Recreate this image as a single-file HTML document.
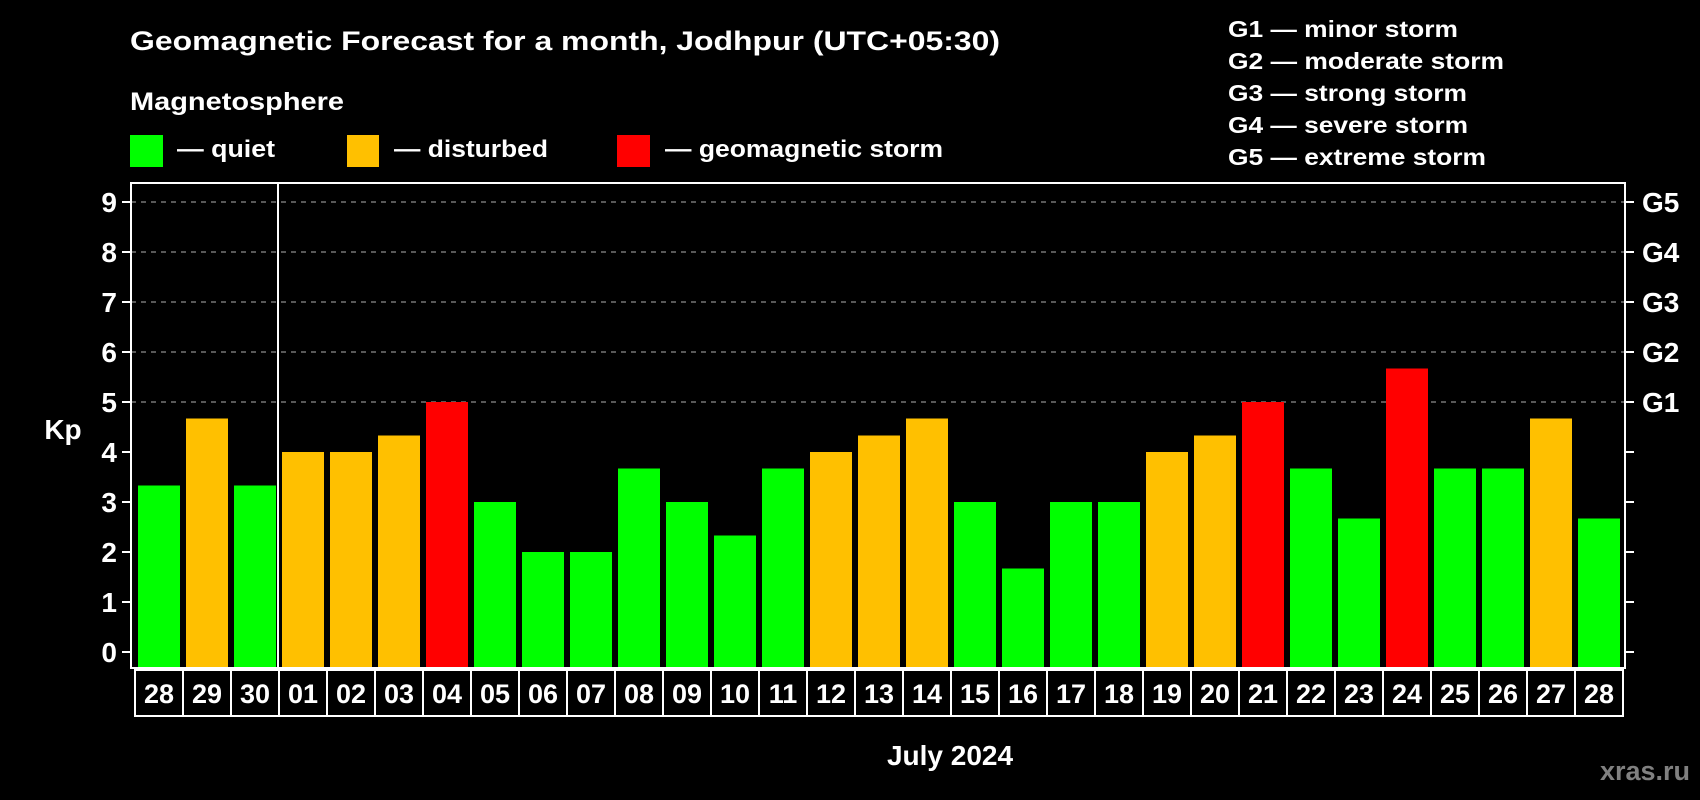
<!DOCTYPE html>
<html><head><meta charset="utf-8"><style>
html,body{margin:0;padding:0;background:#000;width:1700px;height:800px;overflow:hidden}
svg text{font-family:"Liberation Sans",Arial,sans-serif;font-weight:bold;fill:#fff}
</style></head><body>
<svg id="chart" width="1700" height="800" xmlns="http://www.w3.org/2000/svg">
<rect width="1700" height="800" fill="#000"/>
<text x="130" y="50" font-size="27" textLength="870" lengthAdjust="spacingAndGlyphs">Geomagnetic Forecast for a month, Jodhpur (UTC+05:30)</text>
<text x="130" y="110" font-size="25" textLength="214" lengthAdjust="spacingAndGlyphs">Magnetosphere</text>
<rect x="130" y="135" width="33" height="32" fill="#00ff00"/>
<text x="177" y="157" font-size="24" textLength="98" lengthAdjust="spacingAndGlyphs">— quiet</text>
<rect x="347" y="135" width="32" height="32" fill="#ffc000"/>
<text x="394" y="157" font-size="24" textLength="154" lengthAdjust="spacingAndGlyphs">— disturbed</text>
<rect x="617" y="135" width="33" height="32" fill="#ff0000"/>
<text x="665" y="157" font-size="24" textLength="278" lengthAdjust="spacingAndGlyphs">— geomagnetic storm</text>
<g font-size="23">
<text x="1228" y="37" textLength="230" lengthAdjust="spacingAndGlyphs">G1 — minor storm</text>
<text x="1228" y="69" textLength="276" lengthAdjust="spacingAndGlyphs">G2 — moderate storm</text>
<text x="1228" y="101" textLength="239" lengthAdjust="spacingAndGlyphs">G3 — strong storm</text>
<text x="1228" y="133" textLength="240" lengthAdjust="spacingAndGlyphs">G4 — severe storm</text>
<text x="1228" y="165" textLength="258" lengthAdjust="spacingAndGlyphs">G5 — extreme storm</text>
</g>
<g id="grid"></g>
<g id="bars"></g>
<g id="axes"></g>
<text x="63" y="439" font-size="28" text-anchor="middle">Kp</text>
<text x="950" y="765" font-size="28" text-anchor="middle">July 2024</text>
<text x="1690" y="780" font-size="27" text-anchor="end" style="fill:#808080">xras.ru</text>
</svg>
<script>
const days = ["28","29","30","01","02","03","04","05","06","07","08","09","10","11","12","13","14","15","16","17","18","19","20","21","22","23","24","25","26","27","28"];
const kpValues = [3.33,4.67,3.33,4,4,4.33,5,3,2,2,3.67,3,2.33,3.67,4,4.33,4.67,3,1.67,3,3,4,4.33,5,3.67,2.67,5.67,3.67,3.67,4.67,2.67];
const yTicks = [0,1,2,3,4,5,6,7,8,9];
const gLabels = ["G1","G2","G3","G4","G5"];
const gLevels = [5,6,7,8,9];
const monthBreakIndex = 3;

const NS="http://www.w3.org/2000/svg";
const plotL=131, plotR=1625, plotT=183, plotB=668;
const y0=652, yUnit=50;
const slotStart=135, slot=48, barW=42;
function yScale(v){return y0 - v*yUnit;}
function xSlot(i){return slotStart + i*slot;}
function mk(tag,attrs,parent){const e=document.createElementNS(NS,tag);for(const k in attrs)e.setAttribute(k,attrs[k]);parent.appendChild(e);return e;}
function colorFor(v){return v>=5?"#ff0000":(v>=4?"#ffc000":"#00ff00");}

const grid=document.getElementById('grid'), bars=document.getElementById('bars'), axes=document.getElementById('axes');
yTicks.forEach(t=>{
  const y=yScale(t);
  if(t>=5){
    const l=mk('line',{x1:plotL,x2:plotR,y1:y,y2:y,stroke:'#8c8c8c','stroke-width':1.3,'stroke-dasharray':'5,5'},grid);
    
    
  }
  const tk=mk('line',{x1:122,x2:plotL,y1:y,y2:y,stroke:'#fff','stroke-width':2},axes);
  
  
  const tr=mk('line',{x1:plotR,x2:1634,y1:y,y2:y,stroke:'#fff','stroke-width':2},axes);
  
  
  const tx=mk('text',{x:117,y:y+10,'font-size':28,'text-anchor':'end'},axes);
  tx.textContent=t;
  
  
});
gLabels.forEach((g,i)=>{
  const tx=mk('text',{x:1642,y:yScale(gLevels[i])+10,'font-size':28},axes);
  tx.textContent=g;
  
  
});
kpValues.forEach((v,i)=>{
  const r=mk('rect',{x:xSlot(i)+3,y:yScale(v),width:barW,height:plotB-yScale(v),fill:colorFor(v)},bars);
  
  
});
const frame=mk('rect',{x:plotL,y:plotT,width:plotR-plotL,height:plotB-plotT,fill:'none',stroke:'#fff','stroke-width':2},axes);


const sep=mk('line',{x1:xSlot(monthBreakIndex)-1,x2:xSlot(monthBreakIndex)-1,y1:plotT,y2:plotB,stroke:'#fff','stroke-width':2},axes);


days.forEach((d,i)=>{
  const b=mk('rect',{x:xSlot(i),y:670,width:slot,height:46,fill:'#000',stroke:'#fff','stroke-width':2},axes);
  
  
  const t=mk('text',{x:xSlot(i)+slot/2,y:703,'font-size':27,'text-anchor':'middle'},axes);
  t.textContent=d;
  
  
});
</script>
</body></html>
